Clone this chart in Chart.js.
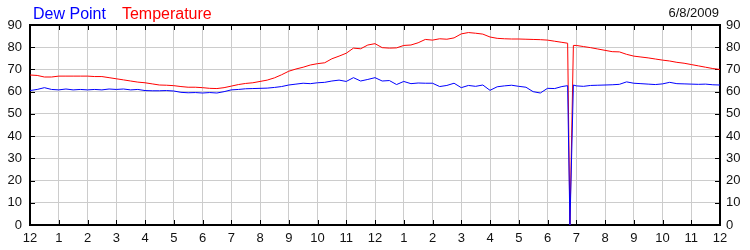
<!DOCTYPE html>
<html>
<head>
<meta charset="utf-8">
<script src="https://cdn.jsdelivr.net/npm/chart.js@4.4.0/dist/chart.umd.min.js"></script>
<style>
    html, body { margin: 0; padding: 0; background: #fff; }
    #wrap { width: 750px; height: 250px; position: relative; }
</style>
</head>
<body>
<div id="wrap"><canvas id="myChart"></canvas></div>
<script>
// time of day in hours (0 = midnight)
const hours = [
    0, 0.25, 0.5, 0.75, 1, 1.25, 1.5, 1.75, 2, 2.25, 2.5, 2.75,
    3, 3.25, 3.5, 3.75, 4, 4.25, 4.5, 4.75, 5, 5.25, 5.5, 5.75,
    6, 6.25, 6.5, 6.75, 7, 7.25, 7.5, 7.75, 8, 8.25, 8.5, 8.75,
    9, 9.25, 9.5, 9.75, 10, 10.25, 10.5, 10.75, 11, 11.25, 11.5, 11.75,
    12, 12.25, 12.5, 12.75, 13, 13.25, 13.5, 13.75, 14, 14.25, 14.5, 14.75,
    15, 15.25, 15.5, 15.75, 16, 16.25, 16.5, 16.75, 17, 17.25, 17.5, 17.75,
    18, 18.25, 18.5, 18.7, 18.78, 18.9, 19, 19.25, 19.5, 19.75,
    20, 20.25, 20.5, 20.75, 21, 21.25, 21.5, 21.75, 22, 22.25, 22.5, 22.75,
    23, 23.25, 23.5, 23.75, 24
];

const temperature = [
    67.5, 67.3, 66.6, 66.6, 67.0, 67.0, 67.0, 67.0, 67.0, 66.8, 66.8, 66.3,
    65.8, 65.3, 64.8, 64.3, 64.0, 63.5, 63.0, 62.9, 62.7, 62.3, 62.0, 62.0,
    61.8, 61.5, 61.4, 61.8, 62.5, 63.2, 63.7, 64.0, 64.6, 65.2, 66.2, 67.6,
    69.2, 70.2, 71.0, 72.0, 72.6, 73.0, 74.8, 76.0, 77.3, 79.6, 79.3, 81.0,
    81.6, 79.8, 79.6, 79.7, 80.8, 81.0, 82.0, 83.5, 83.2, 83.8, 83.6, 84.2,
    86.0, 86.6, 86.3, 85.9, 84.6, 84.0, 83.8, 83.7, 83.7, 83.6, 83.5, 83.4,
    83.2, 82.7, 82.2, 81.8, 0, 80.8, 80.8, 80.3, 79.8, 79.2,
    78.6, 78.0, 77.9, 76.8, 76.0, 75.6, 75.2, 74.7, 74.2, 73.8, 73.2, 72.8,
    72.2, 71.6, 71.0, 70.4, 70.0
];

const dewPoint = [
    60.5, 61.0, 61.8, 61.0, 60.8, 61.2, 60.8, 61.0, 60.8, 61.0, 60.8, 61.2,
    61.0, 61.2, 60.8, 61.0, 60.5, 60.4, 60.4, 60.5, 60.3, 59.7, 59.5, 59.6,
    59.4, 59.6, 59.4, 60.0, 60.8, 61.0, 61.3, 61.4, 61.5, 61.6, 61.9, 62.3,
    63.0, 63.4, 63.8, 63.6, 64.0, 64.2, 64.8, 65.2, 64.6, 66.3, 64.8, 65.5,
    66.3, 64.8, 65.0, 63.2, 64.6, 63.6, 63.9, 63.8, 63.8, 62.3, 62.8, 63.8,
    61.8, 62.8, 62.4, 63.0, 60.6, 62.2, 62.6, 62.9, 62.4, 62.0, 60.0, 59.4,
    61.5, 61.4, 62.3, 62.7, 0, 63.0, 62.6, 62.4, 62.8, 62.9,
    63.0, 63.1, 63.3, 64.4, 63.8, 63.6, 63.4, 63.2, 63.5, 64.2, 63.6, 63.5,
    63.4, 63.3, 63.4, 63.1, 63.0
];

const hourLabels = ['12', '1', '2', '3', '4', '5', '6', '7', '8', '9', '10', '11',
    '12', '1', '2', '3', '4', '5', '6', '7', '8', '9', '10', '11', '12'];
const seriesNames = ['Dew Point', 'Temperature'];
const seriesColors = ['#0000ff', '#ff0000'];
const dateLabel = '6/8/2009';

const fontFamily = '"Liberation Sans", Arial, sans-serif';

function toPoints(values) {
    return values.map((v, i) => ({ x: hours[i], y: v }));
}

// frame, inward tick marks, legend text and date
const decorations = {
    id: 'decorations',
    beforeDatasetsDraw(chart) {
        const ctx = chart.ctx;
        const area = chart.chartArea;
        const xScale = chart.scales.x;
        const yScale = chart.scales.y;
        ctx.save();
        ctx.strokeStyle = '#000';
        ctx.lineWidth = 1;
        ctx.beginPath();
        xScale.ticks.forEach((t) => {
            let px = Math.round(xScale.getPixelForValue(t.value)) + 0.5;
            ctx.moveTo(px, area.top);
            ctx.lineTo(px, area.top + 5);
            ctx.moveTo(px, area.bottom);
            ctx.lineTo(px, area.bottom - 5);
        });
        yScale.ticks.forEach((t) => {
            let py = Math.round(yScale.getPixelForValue(t.value)) + 0.5;
            ctx.moveTo(area.left, py);
            ctx.lineTo(area.left + 5, py);
            ctx.moveTo(area.right, py);
            ctx.lineTo(area.right - 5, py);
        });
        ctx.stroke();
        ctx.lineWidth = 2;
        ctx.strokeRect(area.left, area.top, area.right - area.left, area.bottom - area.top);
        ctx.restore();
    },
    afterDraw(chart) {
        const ctx = chart.ctx;
        ctx.save();
        ctx.font = '16px ' + fontFamily;
        ctx.textBaseline = 'alphabetic';
        let x = 33;
        chart.data.datasets.forEach((ds) => {
            ctx.fillStyle = ds.borderColor;
            ctx.fillText(ds.label, x, 19);
            x += ctx.measureText(ds.label).width + 16;
        });
        ctx.font = '13px ' + fontFamily;
        ctx.fillStyle = '#111';
        ctx.textAlign = 'right';
        ctx.fillText(dateLabel, 719, 17);
        ctx.restore();
    }
};

const tickFont = { family: fontFamily, size: 13 };

new Chart(document.getElementById('myChart'), {
    type: 'line',
    data: {
        datasets: [
            {
                label: seriesNames[0],
                data: toPoints(dewPoint),
                borderColor: seriesColors[0],
                backgroundColor: seriesColors[0],
                borderWidth: 1,
                pointRadius: 0,
                tension: 0,
                fill: false,
            },
            {
                label: seriesNames[1],
                data: toPoints(temperature),
                borderColor: seriesColors[1],
                backgroundColor: seriesColors[1],
                borderWidth: 1,
                pointRadius: 0,
                tension: 0,
                fill: false,
            },
        ]
    },
    options: {
        responsive: true,
        maintainAspectRatio: false,
        animation: false,
        layout: { padding: { top: 25, left: 0, right: 0, bottom: 0 } },
        plugins: {
            legend: { display: false },
            title: { display: false },
            tooltip: { enabled: false },
        },
        scales: {
            x: {
                type: 'linear',
                min: 0,
                max: 24,
                border: { display: false },
                grid: { color: '#cccccc', drawTicks: false },
                ticks: {
                    stepSize: 1,
                    autoSkip: false,
                    maxRotation: 0,
                    padding: 6,
                    color: '#111',
                    font: tickFont,
                    callback: (value) => hourLabels[value],
                },
                afterFit: (scale) => { scale.height = 25; },
            },
            y: {
                position: 'left',
                min: 0,
                max: 90,
                border: { display: false },
                grid: { color: '#cccccc', drawTicks: false },
                ticks: { stepSize: 10, padding: 8, color: '#111', font: tickFont },
                afterFit: (scale) => { scale.width = 30; },
            },
            y2: {
                position: 'right',
                min: 0,
                max: 90,
                border: { display: false },
                grid: { drawOnChartArea: false, drawTicks: false },
                ticks: { stepSize: 10, padding: 6, color: '#111', font: tickFont },
                afterFit: (scale) => { scale.width = 30; },
            },
        },
    },
    plugins: [decorations],
});
</script>
</body>
</html>
